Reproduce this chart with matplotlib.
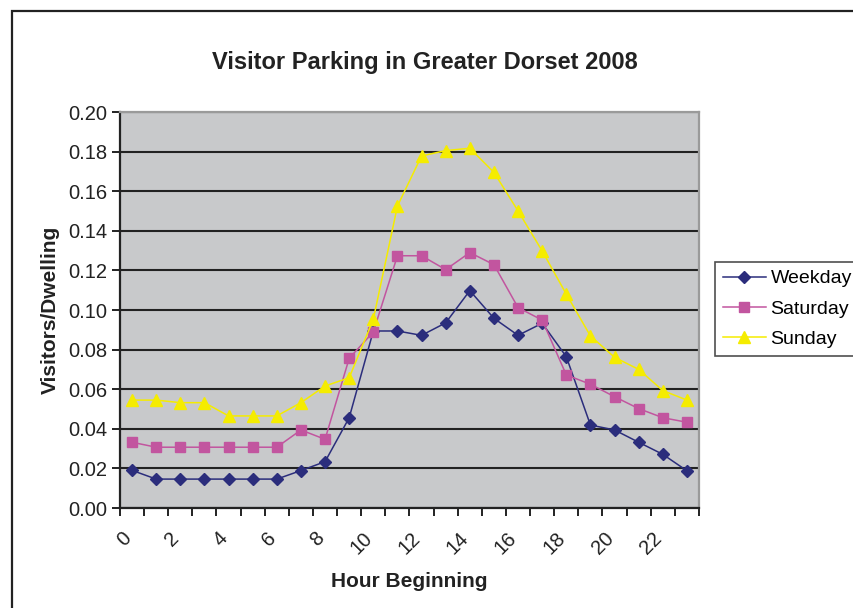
import matplotlib.pyplot as plt
from matplotlib.patches import Rectangle
from matplotlib.ticker import FixedLocator, NullFormatter

plt.rcParams['font.family'] = ['Liberation Sans', 'DejaVu Sans']

hours = list(range(24))
tick_labels = [str(h) for h in range(0, 24, 2)]

weekday = [0.019, 0.0146, 0.0146, 0.0146, 0.0146, 0.0146, 0.0146, 0.0189,
           0.0234, 0.0456, 0.0894, 0.0894, 0.0872, 0.0935, 0.1098, 0.0958,
           0.0872, 0.0933, 0.0764, 0.0419, 0.0394, 0.0332, 0.0271, 0.0188]
saturday = [0.0332, 0.0307, 0.0307, 0.0307, 0.0307, 0.0307, 0.0307, 0.0394,
            0.0347, 0.0756, 0.0889, 0.1274, 0.1274, 0.1204, 0.1290, 0.1229,
            0.1012, 0.0949, 0.0672, 0.0625, 0.0562, 0.0502, 0.0456, 0.0433]
sunday = [0.0545, 0.0545, 0.0532, 0.0532, 0.0465, 0.0465, 0.0465, 0.0532,
          0.0616, 0.0658, 0.0953, 0.1525, 0.1778, 0.1805, 0.1817, 0.1695,
          0.1500, 0.1298, 0.1080, 0.0869, 0.0761, 0.0700, 0.0593, 0.0545]

W, H = 854, 608
fig = plt.figure(figsize=(W / 100, H / 100), dpi=100)

# chart frame, open on the right and bottom
fig.patches.append(Rectangle((12 / W, -0.2), 1.2, 1 - 11 / H + 0.2,
                             transform=fig.transFigure, fill=False,
                             edgecolor='#222222', linewidth=1.6))

ax = fig.add_axes([120 / W, 1 - 508 / H, 579 / W, 396 / H])
ax.set_facecolor('#C8C9CB')

x = [h + 0.5 for h in hours]
ax.plot(x, weekday, color='#2B2D7C', marker='D', markersize=6.5, linewidth=1.1,
        label='Weekday', zorder=3)
ax.plot(x, saturday, color='#C2559F', marker='s', markersize=7.5, linewidth=1.1,
        label='Saturday', zorder=3)
ax.plot(x, sunday, color='#F5EC00', marker='^', markersize=9, linewidth=1.1,
        label='Sunday', zorder=3)

ax.set_xlim(0, 24)
ax.set_ylim(0, 0.20)
ax.set_yticks([i * 0.02 for i in range(11)])
ax.set_yticklabels([f'{i * 0.02:.2f}' for i in range(11)], fontsize=14.5,
                   color='#222222')
ax.yaxis.grid(True, color='#222222', linewidth=1.5)
ax.set_axisbelow(True)

# tick marks on category edges, slanted hour labels on even edges
ax.xaxis.remove_overlapping_locs = False
ax.xaxis.set_major_locator(FixedLocator(range(25)))
ax.xaxis.set_major_formatter(NullFormatter())
ax.xaxis.set_minor_locator(FixedLocator([h + 0.05 for h in range(0, 24, 2)]))
ax.set_xticklabels(tick_labels, minor=True, rotation=45, ha='right', va='top',
                   rotation_mode='anchor', fontsize=14.5, color='#222222')
ax.tick_params(axis='x', which='minor', length=0, pad=15)
ax.tick_params(axis='y', which='major', pad=3)
ax.tick_params(axis='both', which='major', direction='out', length=6,
               width=1.4, color='#222222')

for side in ('left', 'bottom'):
    ax.spines[side].set_color('#222222')
    ax.spines[side].set_linewidth(1.6)
for side in ('top', 'right'):
    ax.spines[side].set_color('#9A9A9A')
    ax.spines[side].set_linewidth(1.6)

ax.set_xlabel('Hour Beginning', fontsize=15, fontweight='bold', labelpad=10,
              color='#222222')
ax.set_ylabel('Visitors/Dwelling', fontsize=15, fontweight='bold', labelpad=6,
              color='#222222')
fig.text(425 / W, 1 - 63 / H, 'Visitor Parking in Greater Dorset 2008',
         ha='center', va='center', fontsize=17, fontweight='bold',
         color='#222222')

leg = fig.legend(loc='upper left', bbox_to_anchor=(715 / W, 1 - 262 / H),
                 fontsize=14, frameon=True, fancybox=False, borderpad=0.4,
                 handlelength=2.2, labelspacing=0.65, handletextpad=0.25,
                 borderaxespad=0)
leg.get_frame().set_edgecolor('#222222')
leg.get_frame().set_linewidth(1.2)

fig.savefig('out.png', dpi=100)
